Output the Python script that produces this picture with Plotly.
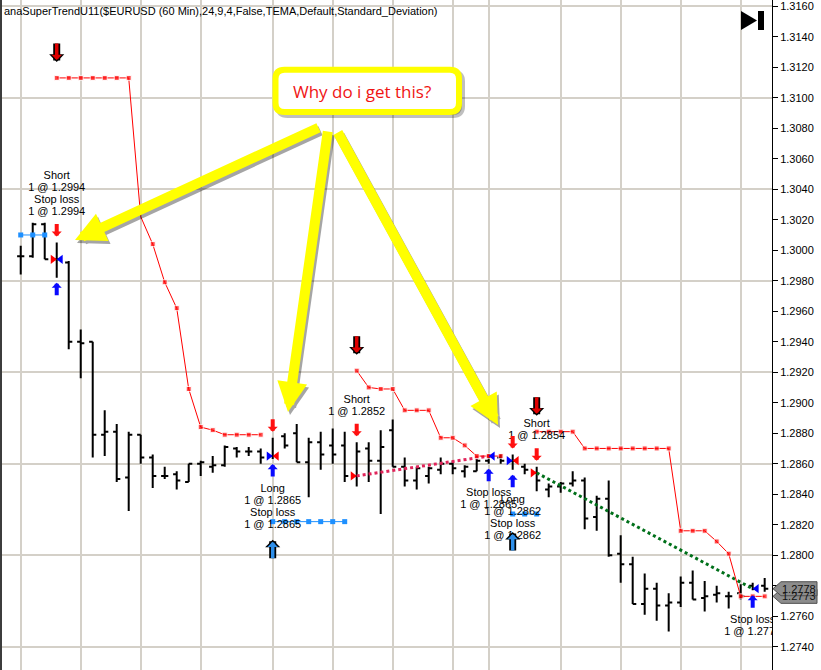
import plotly.graph_objects as go

# ---------------- data ----------------
bar_index = list(range(63))

open_ = [1.2996, 1.2996, 1.3017, 1.2994, 1.2992, 1.2940, 1.2940, 1.2879, 1.2881, 1.2851,
         1.2879, 1.2864, 1.2852, 1.2853, 1.2848, 1.2860, 1.2858, 1.2859, 1.2870, 1.2868,
         1.2868, 1.2865, 1.2878, 1.2880, 1.2861, 1.2874, 1.2872, 1.2872, 1.2852, 1.2870,
         1.2862, 1.2882, 1.2858, 1.2849, 1.2852, 1.2856, 1.2860, 1.2855, 1.2855, 1.2862,
         1.2864, 1.2862, 1.2858, 1.2854, 1.2843, 1.2845, 1.2847, 1.2849, 1.2825, 1.2837,
         1.2801, 1.2794, 1.2768, 1.2778, 1.2767, 1.2769, 1.2782, 1.2772, 1.2774, 1.2773,
         1.2775, 1.2780, 1.2780]
high = [1.3003, 1.3018, 1.3018, 1.3005, 1.2993, 1.2948, 1.2940, 1.2895, 1.2886, 1.2881,
        1.2879, 1.2866, 1.2858, 1.2855, 1.2860, 1.2862, 1.2865, 1.2872, 1.2871, 1.2871,
        1.2870, 1.2877, 1.2880, 1.2886, 1.2877, 1.2881, 1.2883, 1.2881, 1.2874, 1.2874,
        1.2882, 1.2889, 1.2864, 1.2858, 1.2858, 1.2864, 1.2862, 1.2859, 1.2865, 1.2866,
        1.2866, 1.2866, 1.2860, 1.2858, 1.2847, 1.2848, 1.2855, 1.2851, 1.2839, 1.2849,
        1.2813, 1.2799, 1.2788, 1.2782, 1.2775, 1.2786, 1.2790, 1.2783, 1.2780, 1.2776,
        1.2781, 1.2782, 1.2785]
low = [1.2984, 1.2995, 1.2994, 1.2982, 1.2935, 1.2916, 1.2864, 1.2865, 1.2848, 1.2829,
       1.2860, 1.2844, 1.2850, 1.2843, 1.2848, 1.2852, 1.2854, 1.2858, 1.2864, 1.2865,
       1.2860, 1.2863, 1.2870, 1.2861, 1.2838, 1.2856, 1.2860, 1.2848, 1.2845, 1.2848,
       1.2827, 1.2858, 1.2845, 1.2843, 1.2847, 1.2853, 1.2853, 1.2851, 1.2855, 1.2860,
       1.2860, 1.2856, 1.2853, 1.2842, 1.2838, 1.2841, 1.2845, 1.2817, 1.2816, 1.2799,
       1.2782, 1.2768, 1.2761, 1.2757, 1.2750, 1.2766, 1.2771, 1.2763, 1.2769, 1.2765,
       1.2771, 1.2777, 1.2776]
close = [1.2996, 1.3017, 1.2994, 1.2994, 1.2940, 1.2939, 1.2879, 1.2881, 1.2850, 1.2879,
         1.2864, 1.2852, 1.2852, 1.2849, 1.2860, 1.2861, 1.2859, 1.2871, 1.2868, 1.2868,
         1.2864, 1.2865, 1.2872, 1.2861, 1.2874, 1.2866, 1.2866, 1.2852, 1.2868, 1.2862,
         1.2871, 1.2858, 1.2849, 1.2857, 1.2857, 1.2860, 1.2857, 1.2858, 1.2862, 1.2865,
         1.2862, 1.2862, 1.2856, 1.2849, 1.2845, 1.2847, 1.2849, 1.2824, 1.2837, 1.2800,
         1.2794, 1.2768, 1.2778, 1.2767, 1.2769, 1.2782, 1.2771, 1.2773, 1.2775, 1.2773,
         1.2773, 1.2778, 1.2778]

# SuperTrend (short-side stop, red) and long-side stop (blue)
supertrend_short = [None, None, None, 1.3113, 1.3113, 1.3113, 1.3113, 1.3113, 1.3113, 1.3113,
                    1.3022, 1.3004, 1.2979, 1.2962, 1.2909, 1.2884, 1.2882, 1.2879, 1.2879, 1.2879,
                    1.2879, None, None, None, None, None, None, None, 1.2921, 1.2910,
                    1.2909, 1.2909, 1.2895, 1.2895, 1.2895, 1.2877, 1.2877, 1.2872, 1.2865, 1.2865,
                    1.2865, None, None, 1.2881, 1.2881, 1.2881, 1.2881, 1.2870, 1.2870, 1.2870,
                    1.2870, 1.2870, 1.2870, 1.2870, 1.2870, 1.2816, 1.2816, 1.2816, 1.2809, 1.2801,
                    1.2773, 1.2773, 1.2773]
supertrend_hidden_marker = [10]
supertrend_long = [1.3010, 1.3010, 1.3010, None, None, None, None, None, None, None,
                   None, None, None, None, None, None, None, None, None, None,
                   None, 1.2822, 1.2822, 1.2822, 1.2822, 1.2822, 1.2822, 1.2822, None, None,
                   None, None, None, None, None, None, None, None, None, None,
                   None, 1.2827, 1.2827, 1.2827, None, None, None, None, None, None,
                   None, None, None, None, None, None, None, None, None, None,
                   None, None, None]

# executions
entry_bars = [3, 21, 28, 41, 43]
entry_prices = [1.2994, 1.2865, 1.2852, 1.2862, 1.2854]
entry_sides = ["Short", "Long", "Short", "Long", "Short"]
exit_bars = [3, 21, 39, 41, 61]
exit_prices = [1.2994, 1.2865, 1.2865, 1.2862, 1.2778]
exit_sides = ["Short", "Long", "Short", "Long", "Short"]

# trade connecting lines (only the two shown)
trade_line_short1 = dict(bars=[28, 39], prices=[1.2852, 1.2865])
trade_line_short2 = dict(bars=[43, 61], prices=[1.2854, 1.2778])

# execution labels
label_bars = [3, 21, 28, 39, 41, 43, 61]
label_names = [["Short", "Stop loss"], ["Long", "Stop loss"], ["Short"], ["Stop loss"],
               ["Long", "Stop loss"], ["Short"], ["Stop loss"]]
label_prices = [[1.2994, 1.2994], [1.2865, 1.2865], [1.2852], [1.2865],
                [1.2862, 1.2862], [1.2854], [1.2778]]
label_above = [True, False, True, False, False, True, False]

# trend-change signal arrows
short_signal_bars = [3, 28, 43]
long_signal_bars = [21, 41]

# time gridline positions (bar index)
grid_bars = [0, 5, 10, 15, 21, 26, 31, 36, 39, 45, 50, 55, 60]

title_text = "anaSuperTrendU11($EURUSD (60 Min),24,9,4,False,TEMA,Default,Standard_Deviation)"
callout_text = "Why do i get this?"

# ---------------- geometry / style ----------------
W, H = 821, 670
PL, PR = 2, 772            # plot area left/right in px
PW = PR - PL
PH = H
X_RANGE = [-1.56, 62.61]
Y_RANGE = [1.27247, 1.31641]
PPP = (Y_RANGE[1] - Y_RANGE[0]) / PH   # price per pixel
GRID = "#D4D0C8"
FONT = "Liberation Sans, Arial, sans-serif"


def P(x, y):
    """pixel -> paper coords"""
    return (x - PL) / PW, 1 - y / PH


fig = go.Figure()

# dummy trace activating the overlay axis for horizontal gridlines
fig.add_trace(go.Scatter(x=[bar_index[0]], y=[close[0]], yaxis="y2", mode="lines",
                         opacity=0, hoverinfo="skip"))

# trade lines (dotted)
fig.add_trace(go.Scatter(x=trade_line_short1["bars"], y=trade_line_short1["prices"], mode="lines",
                         line=dict(color="#E0245A", width=3, dash="dot"), hoverinfo="skip"))
fig.add_trace(go.Scatter(x=trade_line_short2["bars"], y=trade_line_short2["prices"], mode="lines",
                         line=dict(color="#00701A", width=3, dash="dot"), hoverinfo="skip"))

# OHLC bars
fig.add_trace(go.Ohlc(x=bar_index, open=open_, high=high, low=low, close=close,
                      increasing=dict(line=dict(color="black", width=2)),
                      decreasing=dict(line=dict(color="black", width=2)),
                      tickwidth=0.3, hoverinfo="skip"))

# supertrend lines
st_sizes = [0 if i in supertrend_hidden_marker else 5 for i in bar_index]
fig.add_trace(go.Scatter(x=bar_index, y=supertrend_short, mode="lines+markers",
                         line=dict(color="#FF0000", width=1),
                         marker=dict(symbol="square", size=st_sizes, color="#FF0000"),
                         connectgaps=False, hoverinfo="skip"))
fig.add_trace(go.Scatter(x=bar_index, y=supertrend_long, mode="lines+markers",
                         line=dict(color="#1E90FF", width=1),
                         marker=dict(symbol="square", size=5, color="#1E90FF"),
                         connectgaps=False, hoverinfo="skip"))

# execution triangles
TRI_OFF = 0.33
fig.add_trace(go.Scatter(
    x=[b - TRI_OFF for b in entry_bars], y=entry_prices, mode="markers",
    marker=dict(symbol="triangle-right", size=8,
                color=["#FF0000" if s == "Short" else "#0000FF" for s in entry_sides]),
    hoverinfo="skip"))
fig.add_trace(go.Scatter(
    x=[b + TRI_OFF for b in exit_bars], y=exit_prices, mode="markers",
    marker=dict(symbol="triangle-left", size=8,
                color=["#0000FF" if s == "Short" else "#FF0000" for s in exit_sides]),
    hoverinfo="skip"))

# execution labels (text, clipped by plot area)
tx, ty, tt = [], [], []
for b, names, prices, above in zip(label_bars, label_names, label_prices, label_above):
    lines = []
    for n, p in zip(names, prices):
        lines += [n, f"1 @ {p:.4f}"]
    if above:
        base = high[b] + 30 * PPP
        for i, line in enumerate(reversed(lines)):
            tx.append(b); ty.append(base + i * 12 * PPP); tt.append(line)
    else:
        base = low[b] - 30 * PPP
        for i, line in enumerate(lines):
            tx.append(b); ty.append(base - i * 12 * PPP); tt.append(line)
fig.add_trace(go.Scatter(x=tx, y=ty, text=tt, mode="text", textposition="middle center",
                         textfont=dict(family=FONT, size=11, color="black"),
                         cliponaxis=True, hoverinfo="skip"))

annotations = []
shapes = []


def arrow(x, y, yshift, length, color, width, size, up, head=1):
    return dict(x=x, y=y, xref="x", yref="y", yshift=yshift, ax=0,
                ay=(length if up else -length), axref="pixel", ayref="pixel",
                text="", showarrow=True, arrowhead=head, arrowsize=size,
                arrowwidth=width, arrowcolor=color, standoff=0, startstandoff=0)


# order arrows: sells above (red), buys below (blue)
sell_bars = [b for b, s in zip(entry_bars, entry_sides) if s == "Short"] + \
            [b for b, s in zip(exit_bars, exit_sides) if s == "Long"]
buy_bars = [b for b, s in zip(entry_bars, entry_sides) if s == "Long"] + \
           [b for b, s in zip(exit_bars, exit_sides) if s == "Short"]
for b in sell_bars:
    annotations.append(arrow(b, high[b], 6, 14, "#FF1010", 4, 0.42, up=False))
for b in buy_bars:
    annotations.append(arrow(b, low[b], -5, 14, "#0A0AFF", 4, 0.42, up=True))

# trend signal arrows (outlined)
for b in short_signal_bars:
    annotations.append(arrow(b, supertrend_short[b], 16, 20, "black", 7, 0.36, up=False))
    annotations.append(arrow(b, supertrend_short[b], 18, 18, "#E00000", 3.5, 0.5, up=False))
for b in long_signal_bars:
    annotations.append(arrow(b, supertrend_long[b], -18, 20, "black", 7, 0.36, up=True))
    annotations.append(arrow(b, supertrend_long[b], -20, 18, "#2E8FEA", 3.5, 0.5, up=True))

# title
annotations.append(dict(x=0, y=1, xref="paper", yref="paper", xanchor="left", yanchor="top",
                         xshift=0, yshift=-3, text=title_text, showarrow=False,
                         font=dict(family=FONT, size=11, color="black")))

# price tags on the right axis
for val in [supertrend_short[-1], close[-1]]:
    xt, _ = P(773, 0)
    xb0, _ = P(781, 0)
    xb1, _ = P(817, 0)
    hh = 7 * PPP
    shapes.append(dict(type="path", xref="paper", yref="y",
                       path=f"M {xt},{val} L {xb0},{val + hh} L {xb1},{val + hh} "
                            f"L {xb1},{val - hh} L {xb0},{val - hh} Z",
                       fillcolor="#8C8C8C", line=dict(color="#505050", width=1), layer="above"))
    xc, _ = P(799, 0)
    annotations.append(dict(x=xc, y=val, xref="paper", yref="y", text=f"{val:.4f}",
                            showarrow=False, xanchor="center", yanchor="middle",
                            font=dict(family=FONT, size=11, color="#111111")))

# left border
shapes.append(dict(type="rect", xref="paper", yref="paper", x0=P(0, 0)[0], x1=P(2, 0)[0],
                   y0=0, y1=1, fillcolor="#3C3C3C", line=dict(width=0), layer="above"))

# play-to-end icon
a, b_ = P(741, 11), P(741, 30)
c = P(757, 20.5)
shapes.append(dict(type="path", xref="paper", yref="paper",
                   path=f"M {a[0]},{a[1]} L {c[0]},{c[1]} L {b_[0]},{b_[1]} Z",
                   fillcolor="black", line=dict(width=0), layer="above"))
r0, r1 = P(758, 11), P(764, 30)
shapes.append(dict(type="rect", xref="paper", yref="paper", x0=r0[0], y0=r1[1], x1=r1[0], y1=r0[1],
                   fillcolor="black", line=dict(width=0), layer="above"))


# callout box
def rounded(x0, y0, x1, y1, r, dx=0, dy=0):
    x0 += dx; x1 += dx; y0 += dy; y1 += dy

    def p(x, y):
        q = P(x, y)
        return f"{q[0]},{q[1]}"
    return (f"M {p(x0 + r, y0)} L {p(x1 - r, y0)} Q {p(x1, y0)} {p(x1, y0 + r)} "
            f"L {p(x1, y1 - r)} Q {p(x1, y1)} {p(x1 - r, y1)} L {p(x0 + r, y1)} "
            f"Q {p(x0, y1)} {p(x0, y1 - r)} L {p(x0, y0 + r)} Q {p(x0, y0)} {p(x0 + r, y0)} Z")


shapes.append(dict(type="path", xref="paper", yref="paper",
                   path=rounded(275.5, 69.7, 459, 112, 9, 3, 3),
                   fillcolor="rgba(0,0,0,0.25)", line=dict(color="rgba(0,0,0,0.25)", width=6),
                   layer="above"))
shapes.append(dict(type="path", xref="paper", yref="paper",
                   path=rounded(275.5, 69.7, 459, 112, 9),
                   fillcolor="white", line=dict(color="#FFFF00", width=6), layer="above"))
cx, cy = P(362, 92)
annotations.append(dict(x=cx, y=cy, xref="paper", yref="paper", text=callout_text,
                        showarrow=False, xanchor="center", yanchor="middle",
                        font=dict(family="Open Sans, sans-serif", size=17, color="#F01414")))

# big yellow arrows from the callout
big_arrows = [((75, 240), (320, 127)), ((288, 412), (328, 130)), ((498, 425), (337, 131))]
for (hx, hy), (tx_, ty_) in big_arrows:
    hpx, hpy = P(hx + 2, hy + 3)
    annotations.append(dict(x=hpx, y=hpy, xref="paper", yref="paper", ax=tx_ - hx, ay=ty_ - hy,
                            axref="pixel", ayref="pixel", text="", showarrow=True, arrowhead=2,
                            arrowsize=0.6, arrowwidth=10, arrowcolor="rgba(0,0,0,0.35)",
                            standoff=0, startstandoff=0))
for (hx, hy), (tx_, ty_) in big_arrows:
    hpx, hpy = P(hx, hy)
    annotations.append(dict(x=hpx, y=hpy, xref="paper", yref="paper", ax=tx_ - hx, ay=ty_ - hy,
                            axref="pixel", ayref="pixel", text="", showarrow=True, arrowhead=2,
                            arrowsize=0.6, arrowwidth=10, arrowcolor="#FFFF00",
                            standoff=0, startstandoff=0))

fig.update_layout(
    width=W, height=H, margin=dict(l=PL, r=W - PR, t=0, b=0),
    paper_bgcolor="white", plot_bgcolor="white", showlegend=False,
    xaxis=dict(range=X_RANGE, tickvals=grid_bars, showticklabels=False, ticks="",
               showgrid=True, gridcolor=GRID, gridwidth=1.5, zeroline=False, showline=False,
               rangeslider=dict(visible=False), fixedrange=True),
    yaxis=dict(range=Y_RANGE, side="right", tick0=1.274, dtick=0.002, tickformat=".4f",
               showgrid=False, zeroline=False, showline=True, linecolor="black", linewidth=1,
               ticks="outside", ticklen=5, tickcolor="black",
               tickfont=dict(family=FONT, size=11, color="black"), fixedrange=True),
    yaxis2=dict(range=Y_RANGE, overlaying="y", side="right", tick0=1.274, dtick=0.006,
                showgrid=True, gridcolor=GRID, gridwidth=1.5, showticklabels=False, ticks="",
                zeroline=False, showline=False, fixedrange=True),
    annotations=annotations, shapes=shapes,
)

fig.write_html(
    "out.html",
    config={"displayModeBar": False},
    post_script=("document.body.style.margin='0';"
                 "document.body.style.overflow='hidden';"
                 "document.documentElement.style.overflow='hidden';"),
)
